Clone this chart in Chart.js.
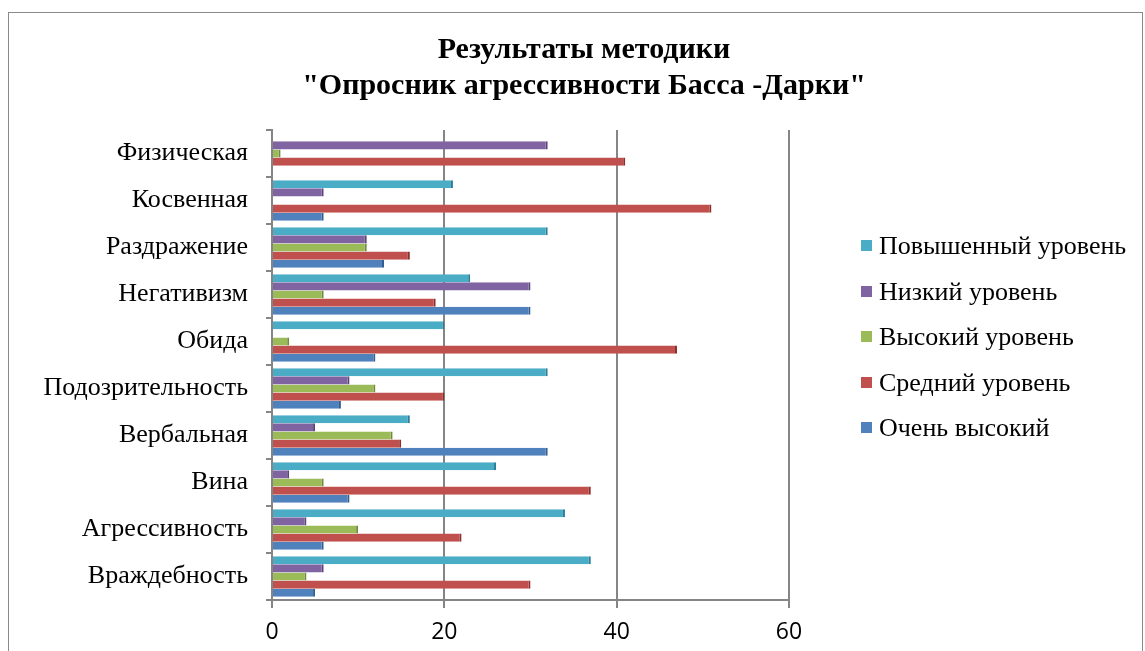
<!DOCTYPE html>
<html>
<head>
<meta charset="utf-8">
<script src="https://cdn.jsdelivr.net/npm/chart.js@4.4.1/dist/chart.umd.min.js"></script>
<style>
html,body{margin:0;padding:0;background:#fff;}
#wrap{width:1145px;height:651px;position:relative;}
</style>
</head>
<body>
<div id="wrap"><canvas id="c" width="1145" height="651"></canvas></div>
<script>
const categories = ["Физическая","Косвенная","Раздражение","Негативизм","Обида","Подозрительность","Вербальная","Вина","Агрессивность","Враждебность"];
const seriesNames = ["Повышенный уровень","Низкий уровень","Высокий уровень","Средний уровень","Очень высокий"];
const povyshenny = [0, 21, 32, 23, 20, 32, 16, 26, 34, 37];
const nizkiy     = [32, 6, 11, 30, 0, 9, 5, 2, 4, 6];
const vysokiy    = [1, 0, 11, 6, 2, 12, 14, 6, 10, 4];
const sredniy    = [41, 51, 16, 19, 47, 20, 15, 37, 22, 30];
const ochenVys   = [0, 6, 13, 30, 12, 8, 32, 9, 6, 5];
const xTicks = [0, 20, 40, 60];
const titleLines = ["Результаты методики", "\"Опросник агрессивности Басса -Дарки\""];

const colors = ["#4BACC6","#8064A2","#9BBB59","#C0504D","#4F81BD"];
const edges  = ["#2E7F95","#5A4478","#6E8A3A","#8C2E2C","#345D8F"];
const values = [povyshenny, nizkiy, vysokiy, sredniy, ochenVys];

const decor = {
  id: 'decor',
  beforeDraw(chart) {
    const ctx = chart.ctx;
    ctx.save();
    ctx.fillStyle = '#fff';
    ctx.fillRect(0, 0, chart.width, chart.height);
    ctx.strokeStyle = '#8a8a8a';
    ctx.lineWidth = 1;
    ctx.strokeRect(8.5, 12.5, 1134, 660);
    ctx.restore();
  },
  afterDraw(chart) {
    const ctx = chart.ctx;
    ctx.save();
    ctx.fillStyle = '#000';
    ctx.font = 'bold 30px "Liberation Serif"';
    ctx.textAlign = 'center';
    ctx.textBaseline = 'middle';
    ctx.fillText(titleLines[0], 584, 50);
    ctx.fillText(titleLines[1], 584, 86);
    ctx.font = '26px "Liberation Serif"';
    ctx.textAlign = 'left';
    const ys = [246, 292, 337, 383, 428];
    chart.data.datasets.forEach((ds, i) => {
      ctx.fillStyle = ds.backgroundColor;
      ctx.fillRect(861, ys[i] - 6, 11, 11);
      ctx.fillStyle = '#000';
      ctx.fillText(ds.label, 879, ys[i] + 1);
    });
    ctx.restore();
  }
};

new Chart(document.getElementById('c'), {
  type: 'bar',
  data: {
    labels: categories,
    datasets: seriesNames.map((n, i) => ({
      label: n,
      data: values[i],
      backgroundColor: colors[i],
      borderColor: edges[i],
      borderWidth: {top: 0, right: 2, bottom: 0, left: 0},
      borderSkipped: false,
      categoryPercentage: 0.86,
      barPercentage: 1.0
    }))
  },
  options: {
    indexAxis: 'y',
    responsive: false,
    animation: false,
    devicePixelRatio: 1,
    layout: {padding: {top: 130, left: 8, right: 356, bottom: 5}},
    plugins: {
      legend: {display: false},
      title: {display: false},
      tooltip: {enabled: false}
    },
    scales: {
      x: {
        min: 0, max: 60,
        afterBuildTicks(scale) { scale.ticks = xTicks.map(v => ({value: v})); },
        afterFit(scale) { scale.height = 46; },
        grid: {color: '#858585', lineWidth: 2, tickLength: 8, drawTicks: true},
        border: {color: '#858585', width: 2},
        ticks: {color: '#000', font: {family: '"Open Sans"', size: 23}, padding: 11}
      },
      y: {
        afterFit(scale) { scale.width = 264; },
        grid: {offset: true, drawOnChartArea: false, color: '#858585', lineWidth: 2, tickLength: 6},
        border: {color: '#858585', width: 2},
        ticks: {color: '#000', font: {family: '"Liberation Serif"', size: 26}, padding: 18}
      }
    }
  },
  plugins: [decor]
});
</script>
</body>
</html>
